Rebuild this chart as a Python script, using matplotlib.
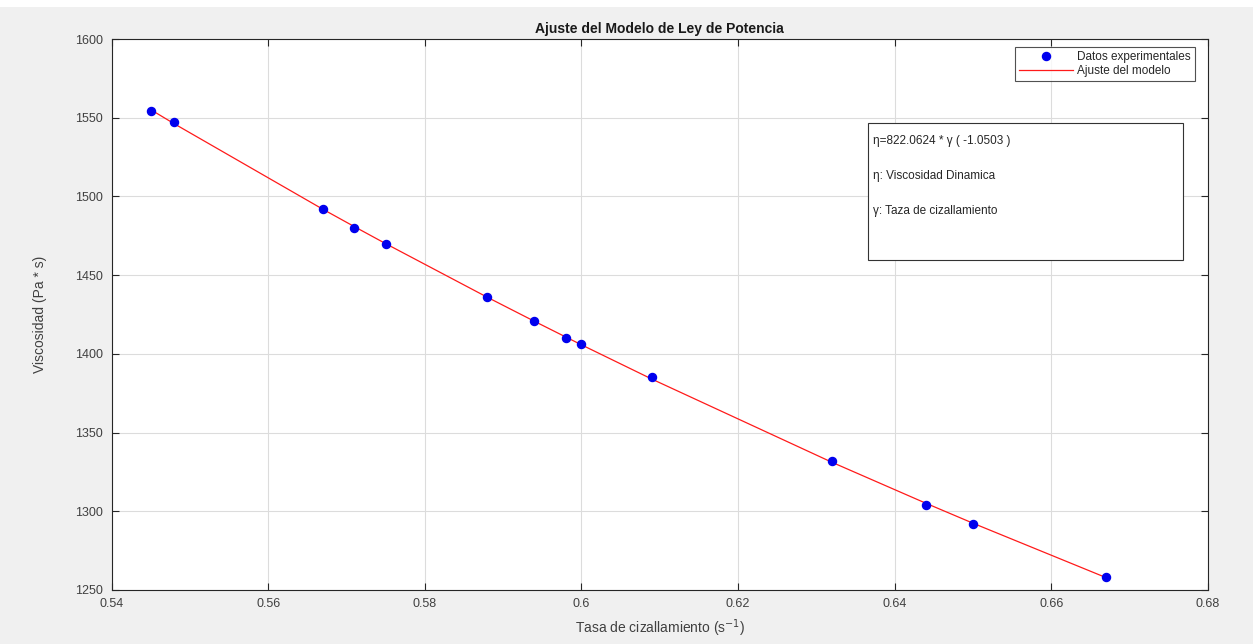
import numpy as np
import matplotlib
matplotlib.use("Agg")
import matplotlib.pyplot as plt
from matplotlib.patches import Rectangle
from matplotlib.ticker import FuncFormatter

# -----------------------------
# DATA
# -----------------------------
shear_rate = [0.545, 0.548, 0.567, 0.571, 0.575, 0.588, 0.594,
              0.598, 0.600, 0.609, 0.632, 0.644, 0.650, 0.667]
viscosity = [1554, 1547, 1492, 1480, 1470, 1436, 1421,
             1410, 1406, 1385, 1332, 1304, 1292, 1258]

# model coefficients shown in the chart
coef_k = 822.0624
coef_n = -1.0503

fit_text = ["η=822.0624 * γ ( -1.0503 )",
            "η: Viscosidad Dinamica",
            "γ: Taza de cizallamiento"]

# -----------------------------
# PLOT
# -----------------------------
plt.rcParams['font.family'] = ['Liberation Sans', 'DejaVu Sans']

fig = plt.figure(figsize=(12.53, 6.44), dpi=100, facecolor="#f0f0f0")
fig.patches.append(Rectangle((0, 1 - 7 / 644), 1, 7 / 644, transform=fig.transFigure,
                             facecolor="white", edgecolor="none", zorder=0))

ax = fig.add_axes([111.5 / 1253, 1 - 590 / 644, (1208 - 111.5) / 1253, (590 - 39) / 644])

x = np.array(shear_rate)
fit_y = coef_k * x ** coef_n

ax.plot(shear_rate, viscosity, "o", color="#0000ee", markersize=5.8,
        label="Datos experimentales", zorder=3)
ax.plot(shear_rate, fit_y, "-", color="#ff1a1a", linewidth=0.9, label="Ajuste del modelo", zorder=2)

ax.set_xlim(0.54, 0.68)
ax.set_ylim(1250, 1600)
ax.set_xticks(np.arange(0.54, 0.6801, 0.02))
ax.set_yticks(np.arange(1250, 1601, 50))
ax.xaxis.set_major_formatter(FuncFormatter(lambda v, p: "%g" % round(v, 2)))

ax.grid(True, color="#dcdcdc", linewidth=0.8)
ax.set_axisbelow(True)
ax.tick_params(direction="in", top=True, right=True, length=5, width=0.8,
               labelsize=9, colors="#262626", labelcolor="#404040")
ax.tick_params(axis="x", pad=6)
ax.tick_params(axis="y", pad=6)
for s in ax.spines.values():
    s.set_color("#262626")
    s.set_linewidth(0.8)

ax.set_title("Ajuste del Modelo de Ley de Potencia", fontsize=10, fontweight="bold",
             color="#1a1a1a", pad=4)
ax.set_xlabel("Tasa de cizallamiento (s$^{-1}$)", fontsize=10, color="#404040", labelpad=5)
ax.set_ylabel("Viscosidad (Pa * s)", fontsize=10, color="#404040", labelpad=20)

leg = ax.legend(loc="upper right", fontsize=8.5, frameon=True, fancybox=False,
                bbox_to_anchor=(1195 / 1253, 1 - 47 / 644), bbox_transform=fig.transFigure,
                borderaxespad=0, handlelength=4.5, handletextpad=0.4,
                borderpad=0.35, labelspacing=0.15)
leg.get_frame().set_edgecolor("#262626")
leg.get_frame().set_linewidth(0.8)
for t in leg.get_texts():
    t.set_color("#262626")

# annotation box
fig.patches.append(Rectangle((868 / 1253, 1 - 260 / 644), (1183 - 868) / 1253, (260 - 123) / 644,
                             transform=fig.transFigure, facecolor="white",
                             edgecolor="#333333", linewidth=0.8, zorder=5))
for i, t in enumerate(fit_text):
    fig.text(873 / 1253, 1 - (141 + 35 * i) / 644, t, fontsize=8.5, color="#262626",
             va="center", ha="left", zorder=6)

fig.savefig("out.png", dpi=100, facecolor=fig.get_facecolor())
